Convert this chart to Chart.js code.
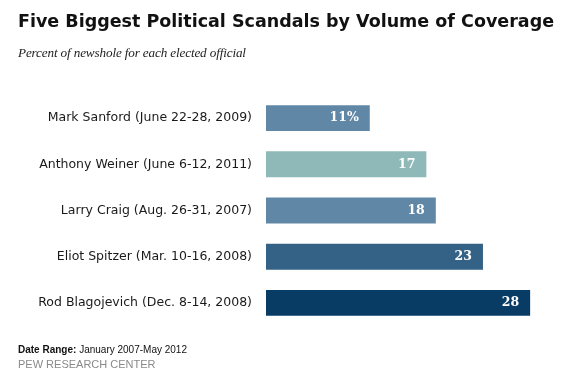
<!DOCTYPE html>
<html>
<head>
<meta charset="utf-8">
<script src="https://cdn.jsdelivr.net/npm/chart.js@4/dist/chart.umd.min.js"></script>
<style>
  html, body { margin: 0; padding: 0; background: #fff; }
  #wrap { position: relative; width: 586px; height: 387px; overflow: hidden; }
  #chart { position: absolute; left: 0; top: 0; }
  .txt { position: absolute; white-space: nowrap; }
  #title { left: 18px; top: 11px; font: bold 17.5px "DejaVu Sans", sans-serif; color: #111; }
  #sub { left: 18px; top: 45px; font: italic 13.2px "Liberation Serif", serif; color: #222; letter-spacing: -0.15px; }
  #src { left: 18px; top: 344px; font: 10px "Liberation Sans", sans-serif; color: #111; }
  #pew { left: 18px; top: 358px; font: 11px "Liberation Sans", sans-serif; color: #8a8a8a; }
</style>
</head>
<body>
<div id="wrap">
  <canvas id="chart" width="586" height="387"></canvas>
  <div class="txt" id="title">Five Biggest Political Scandals by Volume of Coverage</div>
  <div class="txt" id="sub">Percent of newshole for each elected official</div>
  <div class="txt" id="src"><b>Date Range:</b> January 2007-May 2012</div>
  <div class="txt" id="pew">PEW RESEARCH CENTER</div>
</div>
<script>
// Scandal categories and share of newshole
const scandals = [
  'Mark Sanford (June 22-28, 2009)',
  'Anthony Weiner (June 6-12, 2011)',
  'Larry Craig (Aug. 26-31, 2007)',
  'Eliot Spitzer (Mar. 10-16, 2008)',
  'Rod Blagojevich (Dec. 8-14, 2008)'
];
const coverage = [11, 17, 18, 23, 28];
const valueLabels = ['11%', '17', '18', '23', '28'];
const barColors = ['#6187a6', '#8fb9b9', '#6187a6', '#336286', '#083c64'];

// draws the white numbers inside the bar ends
const valueText = {
  id: 'valueText',
  afterDatasetsDraw(chart) {
    const c = chart.ctx;
    const meta = chart.getDatasetMeta(0);
    c.save();
    c.font = 'bold 12.5px "DejaVu Serif", serif';
    c.fillStyle = '#fff';
    c.textAlign = 'right';
    c.textBaseline = 'middle';
    meta.data.forEach((bar, i) => {
      c.fillText(valueLabels[i], bar.x - 11, bar.y);
    });
    c.restore();
  }
};

new Chart(document.getElementById('chart').getContext('2d'), {
  type: 'bar',
  data: {
    labels: scandals,
    datasets: [{
      data: coverage,
      backgroundColor: barColors,
      borderWidth: 0,
      barPercentage: 0.56,
      categoryPercentage: 1
    }]
  },
  options: {
    indexAxis: 'y',
    responsive: false,
    animation: false,
    layout: { padding: { left: 0, top: 95, right: 37, bottom: 61 } },
    scales: {
      x: {
        display: false,
        min: 0,
        max: 30
      },
      y: {
        grid: { display: false },
        border: { display: false },
        afterFit(scale) { scale.width = 266; },
        ticks: {
          padding: 6,
          color: '#1a1a1a',
          font: { family: '"DejaVu Sans", sans-serif', size: 12.5 }
        }
      }
    },
    plugins: {
      legend: { display: false },
      tooltip: { enabled: false }
    }
  },
  plugins: [valueText]
});
</script>
</body>
</html>
